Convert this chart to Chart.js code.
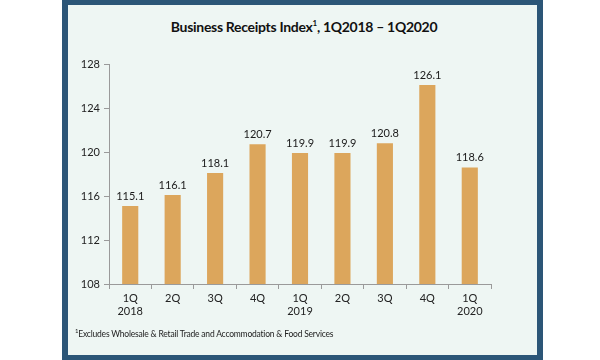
<!DOCTYPE html>
<html>
<head>
<meta charset="utf-8">
<script src="https://cdn.jsdelivr.net/npm/chart.js@4"></script>
<style>
  html, body { margin: 0; padding: 0; background: #ffffff; }
  #wrap { position: relative; width: 600px; height: 360px; overflow: hidden; }
  #frame {
    position: absolute; left: 62px; top: 0; width: 469px; height: 350px;
    background: #eef6f3; border: solid #2c5677; border-width: 5px 6px 5px 6px;
  }
  #title {
    position: absolute; left: 4px; width: 600px; top: 18px; text-align: center;
    font: bold 14px Lato, sans-serif; color: #111; letter-spacing: -0.3px;
  }
  #title sup { font-size: 8px; }
  #note {
    position: absolute; left: 75px; top: 327px;
    font: 8.5px Lato, sans-serif; color: #222; letter-spacing: -0.2px;
  }
  #note sup { font-size: 6px; }
  canvas { position: absolute; left: 0; top: 0; }
</style>
</head>
<body>
<div id="wrap">
  <div id="frame"></div>
  <div id="title">Business Receipts Index<sup>1</sup>, 1Q2018 – 1Q2020</div>
  <canvas id="chart" width="600" height="360"></canvas>
  <div id="note"><sup>1</sup>Excludes Wholesale &amp; Retail Trade and Accommodation &amp; Food Services</div>
</div>
<script>
const quarters = [['1Q', '2018'], '2Q', '3Q', '4Q', ['1Q', '2019'], '2Q', '3Q', '4Q', ['1Q', '2020']];
const receipts = [115.1, 116.1, 118.1, 120.7, 119.9, 119.9, 120.8, 126.1, 118.6];
const yMin = 108, yMax = 128, yStep = 4;

const barLabels = {
    id: 'barLabels',
    afterDatasetsDraw(chart) {
        const ctx = chart.ctx;
        const meta = chart.getDatasetMeta(0);
        ctx.save();
        ctx.font = '11px Lato, sans-serif';
        ctx.fillStyle = '#1a1a1a';
        ctx.textAlign = 'center';
        ctx.textBaseline = 'bottom';
        meta.data.forEach((bar, i) => {
            ctx.fillText(receipts[i].toFixed(1), bar.x, bar.y - 4);
        });
        ctx.restore();
    }
};

new Chart(document.getElementById('chart'), {
    type: 'bar',
    data: {
        labels: quarters,
        datasets: [{
            data: receipts,
            backgroundColor: '#dca65c',
            borderWidth: 0,
            barPercentage: 0.76,
            categoryPercentage: 0.5
        }]
    },
    options: {
        responsive: false,
        animation: false,
        layout: { padding: { left: 69, right: 109, top: 64, bottom: 36 } },
        plugins: { legend: { display: false }, tooltip: { enabled: false } },
        scales: {
            x: {
                afterFit: (s) => { s.height = 40; },
                grid: { drawOnChartArea: false, tickLength: 5, color: '#9a9a9a', offset: true },
                border: { color: '#9a9a9a' },
                ticks: { color: '#222', padding: 3, font: { family: 'Lato', size: 11 }, maxRotation: 0 }
            },
            y: {
                min: yMin,
                max: yMax,
                afterFit: (s) => { s.width = 40; },
                grid: { drawOnChartArea: false, tickLength: 5, color: '#9a9a9a' },
                border: { color: '#9a9a9a' },
                ticks: { stepSize: yStep, color: '#222', padding: 4, font: { family: 'Lato', size: 11 } }
            }
        }
    },
    plugins: [barLabels]
});
</script>
</body>
</html>
